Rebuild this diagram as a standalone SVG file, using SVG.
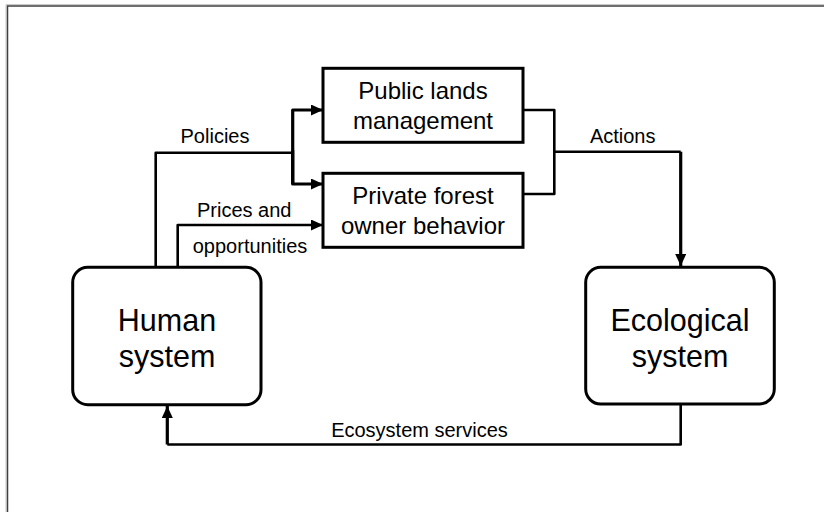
<svg xmlns="http://www.w3.org/2000/svg" width="824" height="512" viewBox="0 0 824 512">
  <style>
    .box { fill: #ffffff; stroke: #000000; stroke-width: 3; }
    .wire { fill: none; stroke: #000000; stroke-width: 2.6; stroke-linejoin: round; stroke-linecap: butt; }
    .wire-thick { fill: none; stroke: #000000; stroke-width: 3.2; stroke-linejoin: round; }
    .node-text { font-family: "Liberation Sans", Arial, sans-serif; font-size: 24px; fill: #000000; text-anchor: middle; }
    .big-text { font-family: "Liberation Sans", Arial, sans-serif; font-size: 30.5px; fill: #000000; text-anchor: middle; }
    .label { font-family: "Liberation Sans", Arial, sans-serif; font-size: 20px; fill: #000000; text-anchor: middle; }
  </style>
  <defs>
    <marker id="arrow" markerUnits="userSpaceOnUse" markerWidth="12" markerHeight="11" refX="12" refY="5.5" orient="auto">
      <path d="M0,0 L12,5.5 L0,11 Z" fill="#000000"/>
    </marker>
  </defs>

  <!-- page frame -->
  <rect x="0" y="0" width="824" height="512" fill="#ffffff"/>
  <path d="M6,512 V4.5 H824" fill="none" stroke="#c8c8c8" stroke-width="1"/>
  <path d="M7.5,512 V6 H824" fill="none" stroke="#404040" stroke-width="1.5"/>

  <!-- connectors -->
  <g id="connectors">
    <!-- Policies: human system to both management boxes -->
    <path class="wire" d="M155.7,268 V152.7 H292.7"/>
    <path class="wire-thick" d="M292.7,184 V110 H323" marker-end="url(#arrow)"/>
    <path class="wire-thick" d="M292.7,150 V184 H323" marker-end="url(#arrow)"/>
    <!-- Prices and opportunities -->
    <path class="wire" d="M177.7,268 V225 H323" marker-end="url(#arrow)"/>
    <!-- Actions: both management boxes to ecological system -->
    <path class="wire" d="M523,110 H554.3 V194 H523"/>
    <path class="wire" d="M554.3,151.7 H680.7"/>
    <path class="wire-thick" d="M680.7,151.7 V266" marker-end="url(#arrow)"/>
    <!-- Ecosystem services: ecological system back to human system -->
    <path class="wire" d="M680.7,404 V444.5 H167.3"/>
    <path class="wire-thick" d="M167.3,444.5 V406" marker-end="url(#arrow)"/>

    <text class="label" x="215" y="143.3">Policies</text>
    <text class="label" x="244.2" y="216.7">Prices and</text>
    <text class="label" x="250" y="253.3">opportunities</text>
    <text class="label" x="622.7" y="142.7">Actions</text>
    <text class="label" x="419.5" y="436.7">Ecosystem services</text>
  </g>

  <g id="public-lands">
    <rect class="box" x="323" y="68.3" width="200" height="74"/>
    <text class="node-text" x="423" y="98.5">Public lands</text>
    <text class="node-text" x="423" y="128.5">management</text>
  </g>

  <g id="private-forest">
    <rect class="box" x="323" y="173.3" width="200" height="74"/>
    <text class="node-text" x="423" y="204">Private forest</text>
    <text class="node-text" x="423" y="234">owner behavior</text>
  </g>

  <g id="human-system">
    <rect class="box" x="72.7" y="267.3" width="188.3" height="137.4" rx="15" ry="15"/>
    <text class="big-text" x="167" y="331">Human</text>
    <text class="big-text" x="167" y="366.7">system</text>
  </g>

  <g id="ecological-system">
    <rect class="box" x="585.7" y="267.3" width="188.6" height="136.7" rx="15" ry="15"/>
    <text class="big-text" x="680" y="331">Ecological</text>
    <text class="big-text" x="680" y="366.7">system</text>
  </g>
</svg>
